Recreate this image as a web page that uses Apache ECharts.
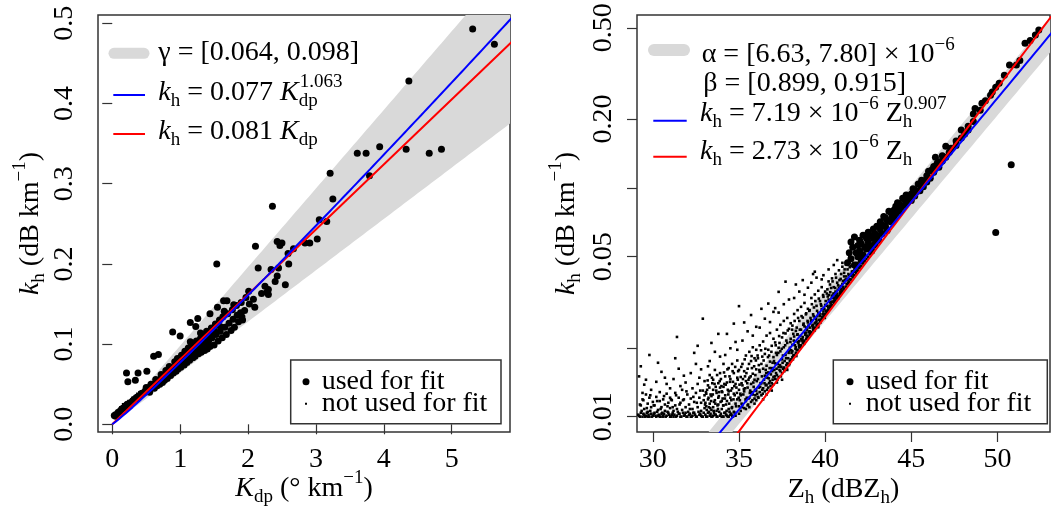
<!DOCTYPE html>
<html>
<head>
<meta charset="utf-8">
<script src="https://cdn.jsdelivr.net/npm/echarts@6/dist/echarts.min.js"></script>
<style>
  html, body { margin: 0; padding: 0; background: #fff; }
  #chart { width: 1051px; height: 508px; }
</style>
</head>
<body>
<div id="chart"></div>
<script>
const FONT = 'Liberation Serif';

// ---- left panel: k_h vs K_dp ----
const kdpTicks = [0, 1, 2, 3, 4, 5];
const khLinTicks = [0, 0.1, 0.2, 0.3, 0.4, 0.5];
const gammaRange = [0.064, 0.098];
const kdpPowerFit = [0.077, 1.063];   // coefficient, exponent
const kdpLinearFit = 0.081;

const usedKdp = [
  [0.03,0.011],[0.05,0.010],[0.06,0.012],[0.08,0.014],[0.10,0.015],[0.12,0.017],[0.14,0.019],[0.16,0.020],
  [0.18,0.021],[0.20,0.023],[0.22,0.025],[0.25,0.026],[0.27,0.027],[0.30,0.029],[0.32,0.031],[0.35,0.032],
  [0.37,0.034],[0.40,0.035],[0.42,0.037],[0.45,0.039],[0.48,0.040],[0.50,0.042],[0.53,0.044],[0.55,0.046],
  [0.58,0.047],[0.60,0.049],[0.63,0.051],[0.65,0.053],[0.68,0.054],[0.70,0.055],[0.72,0.058],[0.75,0.059],
  [0.78,0.061],[0.80,0.063],[0.82,0.065],[0.85,0.066],[0.88,0.069],[0.90,0.070],[0.93,0.072],[0.95,0.074],
  [0.98,0.076],[1.00,0.077],[1.03,0.080],[1.05,0.081],[1.08,0.083],[1.10,0.085],[1.13,0.087],[1.15,0.089],
  [1.18,0.091],[1.20,0.093],[1.23,0.095],[1.25,0.097],[1.28,0.099],[1.30,0.100],[1.33,0.103],[1.35,0.105],
  [1.38,0.107],[1.40,0.108],[1.43,0.111],[1.45,0.113],[1.48,0.115],[1.50,0.117],
  [0.55,0.040],[0.62,0.045],[0.66,0.048],[0.70,0.050],[0.74,0.052],[0.77,0.055],[0.81,0.057],[0.86,0.061],
  [0.90,0.064],[0.94,0.066],[0.97,0.069],[1.01,0.071],[1.06,0.074],[1.10,0.077],[1.14,0.080],[1.19,0.083],
  [1.22,0.085],[1.27,0.088],[1.31,0.090],[1.36,0.092],[1.40,0.094],[1.44,0.097],[1.50,0.099],[1.56,0.104],
  [1.62,0.108],[1.68,0.112],[1.75,0.117],[1.80,0.121],[1.86,0.128],[1.92,0.130],
  [0.50,0.046],[0.57,0.050],[0.64,0.056],[0.72,0.062],[0.79,0.067],[0.84,0.072],[0.92,0.078],[0.96,0.082],
  [1.02,0.086],[1.07,0.091],[1.12,0.095],[1.17,0.098],[1.24,0.104],[1.30,0.107],[1.34,0.112],[1.39,0.116],
  [1.46,0.120],[1.52,0.125],[1.58,0.130],[1.63,0.134],[1.70,0.138],[1.77,0.143],[1.83,0.148],[1.90,0.152],
  [1.97,0.158],
  [0.56,0.044],[0.61,0.048],[0.67,0.052],[0.73,0.056],[0.79,0.060],[0.85,0.064],[0.91,0.068],[0.97,0.072],
  [1.04,0.077],[1.11,0.082],[1.16,0.086],[1.21,0.089],[1.26,0.093],[1.32,0.097],[1.37,0.101],[1.42,0.104],
  [1.47,0.108],[1.53,0.112],[1.59,0.116],[1.66,0.121],[1.72,0.126],[1.78,0.131],[1.84,0.136],[1.95,0.142],
  [2.02,0.150],[2.08,0.156],[2.20,0.163],[2.25,0.172],[2.40,0.178],[2.45,0.195],[2.60,0.200],
  [0.21,0.064],[0.38,0.064],[0.51,0.066],[0.23,0.053],[0.34,0.055],[0.61,0.085],[0.68,0.087],[0.89,0.115],
  [1.00,0.110],[1.15,0.103],[1.20,0.099],[1.26,0.132],[1.15,0.127],[1.23,0.122],[1.30,0.114],[1.44,0.114],
  [1.59,0.122],[1.44,0.138],[1.55,0.146],[1.64,0.154],[1.69,0.154],[1.65,0.141],[1.79,0.149],[1.89,0.139],
  [1.91,0.134],[2.10,0.146],[1.54,0.200],[2.01,0.166],[2.28,0.165],[2.30,0.168],[2.30,0.162],[2.55,0.174],
  [2.43,0.185],[2.34,0.193],[2.15,0.195],[2.59,0.213],[2.67,0.219],[2.50,0.226],[2.47,0.223],[2.43,0.228],
  [2.11,0.222],[2.91,0.226],[2.84,0.226],[3.02,0.231],[3.05,0.255],[3.16,0.253],[2.36,0.272],[3.25,0.281],
  [3.21,0.313],[3.79,0.310],[3.61,0.338],[3.74,0.338],[3.94,0.346],[4.33,0.343],[4.67,0.338],[4.85,0.343],
  [4.37,0.428],[5.31,0.493],[5.63,0.474]
];

const notUsedKdp = [
  [0.03,0.014],[0.04,0.012],[0.06,0.013],[0.07,0.017],[0.08,0.016],[0.10,0.018],[0.11,0.015],[0.12,0.021],
  [0.13,0.020],[0.15,0.021],[0.16,0.025],[0.17,0.024],[0.19,0.022],[0.20,0.026],[0.22,0.027],[0.24,0.029],
  [0.26,0.027],[0.28,0.031],[0.30,0.033],[0.31,0.030],[0.33,0.035],[0.35,0.036],[0.37,0.038],[0.39,0.035],
  [0.40,0.040],[0.42,0.041],[0.44,0.039],[0.46,0.043],[0.50,0.045]
];

// ---- right panel: k_h vs Z_h ----
const zhTicks = [30, 35, 40, 45, 50];
const khLogTicks = [0.01, 0.02, 0.05, 0.1, 0.2, 0.5];
const khLogLabels = [0.01, 0.05, 0.2, 0.5];
const alphaRange = [6.63e-6, 7.80e-6];
const betaRange = [0.899, 0.915];
const zhPowerFit = [7.19e-6, 0.907];
const zhLinearFit = 2.73e-6;

const usedZh = [
  [41.3,.047],[41.4,.052],[41.5,.049],[41.5,.058],[41.6,.055],[41.7,.046],[41.7,.061],[41.8,.052],
  [41.9,.050],[41.9,.056],[42.0,.059],[42.0,.053],[42.1,.048],[42.1,.057],[42.2,.062],[42.2,.051],
  [42.3,.055],[42.4,.054],[42.4,.060],[42.5,.064],[42.5,.058],[42.6,.056],[42.6,.062],[42.7,.053],
  [42.8,.060],[42.8,.066],[42.9,.057],[42.9,.063],[43.0,.062],[43.0,.068],[43.1,.059],[43.2,.066],
  [43.2,.071],[43.3,.063],[43.3,.069],[43.4,.075],[43.5,.068],[43.5,.074],[43.6,.065],[43.6,.072],
  [43.7,.079],[43.8,.071],[43.8,.078],[43.9,.075],[44.0,.074],[44.0,.080],[44.1,.077],[44.1,.083],
  [44.2,.086],[44.3,.079],[44.3,.085],[44.4,.082],[44.5,.090],[44.6,.084],[44.6,.089],[44.7,.093],
  [44.8,.087],[44.9,.091],[45.0,.088],[45.0,.094],[45.1,.099],[45.2,.092],[45.2,.098],[45.3,.096],
  [45.4,.104],[45.5,.097],[45.5,.103],[45.6,.108],[45.7,.101],[45.7,.107],[45.9,.106],[45.9,.113],
  [46.0,.118],[46.1,.110],[46.2,.120],[46.3,.117],[46.3,.124],[46.4,.136],[46.5,.128],[46.6,.123],
  [46.6,.130],[46.8,.131],[46.8,.138],[47.0,.136],[47.0,.152],[47.2,.143],[47.3,.149],[47.6,.153],
  [47.6,.160],[47.9,.165],[47.9,.179],[48.1,.172],[48.3,.179],[48.3,.186],[48.6,.195],[48.6,.210],
  [48.7,.222],[49.0,.218],[49.1,.234],[49.3,.240],[49.6,.254],[49.7,.262],[49.9,.275],[50.1,.286],
  [50.4,.310],[50.7,.344],[51.1,.344],[51.3,.360],[51.6,.428],[51.9,.440],[52.2,.465],[52.4,.489],
  [50.8,.126],[49.9,.0638]
];

const notUsedZh = [
  [29.2,.0101],[29.3,.0104],[29.3,.0112],[29.4,.0100],[29.4,.0119],[29.5,.0102],[29.5,.0108],[29.6,.0125],
  [29.6,.0101],[29.7,.0114],[29.7,.0105],[29.8,.0100],[29.8,.0121],[29.9,.0103],[29.9,.0110],[30.0,.0116],
  [30.0,.0101],[29.2,.0150],[29.3,.0166],[29.8,.0186],[29.5,.0138],[29.9,.0131],[29.4,.0127],[29.6,.0145],
  [29.7,.0100],
  [30.1,.0104],[30.1,.0112],[30.2,.0100],[30.2,.0122],[30.3,.0107],[30.3,.0101],[30.4,.0117],[30.4,.0128],
  [30.5,.0103],[30.5,.0110],[30.6,.0100],[30.6,.0119],[30.7,.0106],[30.7,.0113],[30.8,.0101],[30.8,.0126],
  [30.9,.0104],[30.9,.0115],[31.0,.0100],[31.0,.0109],[30.2,.0142],[30.5,.0157],[30.8,.0139],[30.3,.0172],
  [30.7,.0148],[31.0,.0133],[30.6,.0101],[30.4,.0100],
  [31.1,.0102],[31.1,.0118],[31.2,.0106],[31.2,.0100],[31.3,.0112],[31.3,.0127],[31.4,.0101],[31.4,.0223],
  [31.4,.0108],[31.5,.0121],[31.5,.0103],[31.6,.0115],[31.6,.0100],[31.7,.0131],[31.7,.0107],[31.8,.0101],
  [31.8,.0119],[31.9,.0110],[31.9,.0104],[32.0,.0125],[32.0,.0100],[31.2,.0146],[31.5,.0162],[31.8,.0151],
  [31.3,.0180],[31.9,.0141],[31.6,.0136],[31.0,.0121],
  [32.1,.0102],[32.1,.0113],[32.2,.0120],[32.2,.0100],[32.3,.0108],[32.3,.0133],[32.4,.0104],[32.4,.0116],
  [32.5,.0100],[32.5,.0127],[32.6,.0110],[32.6,.0139],[32.7,.0102],[32.7,.0121],[32.8,.0106],[32.8,.0115],
  [32.9,.0100],[32.9,.0268],[32.9,.0130],[33.0,.0109],[33.0,.0124],[32.2,.0155],[32.5,.0170],[32.8,.0161],
  [32.4,.0190],[32.7,.0148],[33.0,.0143],[32.6,.0204],[32.3,.0101],[32.8,.0101],
  [33.1,.0100],[33.1,.0111],[33.1,.0126],[33.2,.0104],[33.2,.0119],[33.2,.0137],[33.3,.0101],[33.3,.0114],
  [33.3,.0152],[33.4,.0107],[33.4,.0123],[33.4,.0100],[33.5,.0131],[33.5,.0110],[33.5,.0145],[33.6,.0102],
  [33.6,.0118],[33.6,.0160],[33.7,.0106],[33.7,.0127],[33.7,.0100],[33.8,.0113],[33.8,.0140],[33.8,.0121],
  [33.9,.0101],[33.9,.0134],[33.9,.0155],[34.0,.0108],[34.0,.0117],[34.0,.0129],[33.3,.0175],[33.6,.0192],
  [33.9,.0183],[33.4,.0210],[33.8,.0230],[33.2,.0166],[34.0,.0100],[33.5,.0101],
  [34.1,.0100],[34.1,.0112],[34.1,.0135],[34.2,.0104],[34.2,.0124],[34.2,.0150],[34.3,.0101],[34.3,.0117],
  [34.3,.0141],[34.4,.0108],[34.4,.0129],[34.4,.0163],[34.5,.0102],[34.5,.0121],[34.5,.0146],[34.6,.0110],
  [34.6,.0133],[34.6,.0170],[34.7,.0105],[34.7,.0126],[34.7,.0155],[34.8,.0114],[34.8,.0139],[34.8,.0101],
  [34.9,.0119],[34.9,.0148],[34.9,.0176],[35.0,.0111],[35.0,.0131],[35.0,.0160],[34.2,.0186],[34.5,.0199],
  [34.8,.0212],[34.3,.0230],[34.7,.0255],[34.9,.0196],[35.0,.0304],[34.4,.0100],[34.6,.0101],[34.1,.0170],
  [35.1,.0106],[35.1,.0124],[35.1,.0149],[35.2,.0113],[35.2,.0137],[35.2,.0170],[35.3,.0109],[35.3,.0129],
  [35.3,.0158],[35.4,.0117],[35.4,.0143],[35.4,.0185],[35.5,.0112],[35.5,.0134],[35.5,.0162],[35.6,.0121],
  [35.6,.0148],[35.6,.0192],[35.7,.0116],[35.7,.0139],[35.7,.0175],[35.8,.0125],[35.8,.0154],[35.8,.0201],
  [35.9,.0120],[35.9,.0145],[35.9,.0180],[36.0,.0130],[36.0,.0161],[36.0,.0196],[35.2,.0215],[35.5,.0236],
  [35.8,.0226],[35.3,.0258],[35.7,.0278],[36.0,.0247],[35.6,.0110],[35.9,.0114],[35.4,.0108],[35.0,.0103],
  [36.1,.0122],[36.1,.0146],[36.1,.0180],[36.2,.0128],[36.2,.0157],[36.2,.0205],[36.3,.0124],[36.3,.0140],
  [36.3,.0170],[36.4,.0133],[36.4,.0162],[36.4,.0213],[36.5,.0129],[36.5,.0151],[36.5,.0188],[36.6,.0138],
  [36.6,.0167],[36.6,.0226],[36.7,.0134],[36.7,.0156],[36.7,.0196],[36.8,.0143],[36.8,.0174],[36.8,.0232],
  [36.9,.0140],[36.9,.0163],[36.9,.0204],[37.0,.0149],[37.0,.0182],[37.0,.0219],[36.2,.0245],[36.5,.0268],
  [36.8,.0259],[36.3,.0296],[36.7,.0312],[37.0,.0287],[36.4,.0119],[36.9,.0130],[36.6,.0125],[36.0,.0118],
  [37.1,.0146],[37.1,.0171],[37.1,.0211],[37.2,.0152],[37.2,.0186],[37.2,.0240],[37.3,.0149],[37.3,.0165],
  [37.3,.0200],[37.4,.0158],[37.4,.0193],[37.4,.0252],[37.5,.0155],[37.5,.0178],[37.5,.0222],[37.6,.0164],
  [37.6,.0201],[37.6,.0262],[37.7,.0161],[37.7,.0186],[37.7,.0231],[37.8,.0171],[37.8,.0210],[37.8,.0270],
  [37.9,.0168],[37.9,.0194],[37.9,.0242],[38.0,.0178],[38.0,.0219],[38.0,.0256],[37.3,.0285],[37.6,.0310],
  [37.7,.0389],[37.3,.0351],[37.9,.0325],[37.1,.0298],[37.5,.0145],[37.8,.0160],[37.2,.0141],[38.0,.0175],
  [38.1,.0182],[38.1,.0206],[38.1,.0250],[38.2,.0186],[38.2,.0224],[38.2,.0281],[38.3,.0190],[38.3,.0201],
  [38.3,.0237],[38.4,.0196],[38.4,.0229],[38.4,.0292],[38.5,.0201],[38.5,.0214],[38.5,.0262],[38.6,.0205],
  [38.6,.0240],[38.6,.0302],[38.7,.0210],[38.7,.0223],[38.7,.0271],[38.8,.0215],[38.8,.0248],[38.8,.0314],
  [38.9,.0219],[38.9,.0233],[38.9,.0283],[39.0,.0224],[39.0,.0258],[39.0,.0296],[38.2,.0330],[38.5,.0352],
  [38.8,.0341],[38.3,.0378],[38.7,.0395],[39.0,.0366],[38.4,.0212],[38.9,.0245],[38.6,.0218],[38.1,.0193],
  [39.1,.0229],[39.1,.0245],[39.1,.0292],[39.2,.0234],[39.2,.0264],[39.2,.0330],[39.3,.0239],[39.3,.0252],
  [39.3,.0280],[39.4,.0244],[39.4,.0272],[39.4,.0342],[39.4,.0430],[39.5,.0250],[39.5,.0262],[39.5,.0305],
  [39.6,.0255],[39.6,.0284],[39.6,.0355],[39.7,.0261],[39.7,.0275],[39.7,.0320],[39.8,.0267],[39.8,.0295],
  [39.8,.0368],[39.9,.0273],[39.9,.0288],[39.9,.0334],[40.0,.0280],[40.0,.0308],[40.0,.0352],[39.2,.0385],
  [39.5,.0405],[39.8,.0398],[39.3,.0420],[39.9,.0415],[39.6,.0246],[39.1,.0236],[39.9,.0281],[39.4,.0256],
  [40.1,.0287],[40.1,.0305],[40.1,.0345],[40.2,.0294],[40.2,.0325],[40.2,.0390],[40.3,.0300],[40.3,.0316],
  [40.3,.0350],[40.4,.0307],[40.4,.0338],[40.4,.0402],[40.5,.0314],[40.5,.0330],[40.5,.0368],[40.6,.0322],
  [40.6,.0352],[40.6,.0420],[40.7,.0329],[40.7,.0345],[40.7,.0385],[40.8,.0337],[40.8,.0366],[40.8,.0436],
  [40.9,.0345],[40.9,.0360],[40.9,.0400],[41.0,.0353],[41.0,.0380],[41.0,.0452],[40.2,.0440],[40.7,.0483],
  [40.5,.0460],[41.0,.0470],[40.4,.0318],[40.9,.0372],[40.6,.0336],
  [41.1,.0362],[41.1,.0385],[41.1,.0425],[41.2,.0370],[41.2,.0398],[41.2,.0462],[41.3,.0379],[41.3,.0395],
  [41.3,.0440],[41.4,.0388],[41.4,.0415],[41.4,.0478],[41.5,.0397],[41.5,.0412],[41.5,.0455],[41.6,.0406],
  [41.6,.0432],[41.6,.0490],[41.7,.0416],[41.7,.0440],[41.8,.0425],[41.8,.0452],[41.9,.0435],[41.9,.0462],
  [42.0,.0446],[42.0,.0470],[41.4,.0505],[41.8,.0515],[41.1,.0410],[41.6,.0420],
  [42.1,.0456],[42.1,.0480],[42.2,.0467],[42.2,.0495],[42.3,.0478],[42.3,.0505],[42.4,.0489],[42.5,.0500],
  [42.6,.0512],[42.7,.0524],[42.8,.0537],[42.9,.0550],[43.0,.0562],[43.2,.0590],
  // floor row and dense core, in between the columns above
  [29.15,.0102],[29.25,.0100],[29.35,.0106],[29.45,.0103],[29.55,.0100],[29.65,.0104],[29.75,.0102],[29.85,.0106],
  [29.95,.0100],[30.05,.0103],[30.15,.0101],[30.25,.0105],[30.35,.0102],[30.45,.0100],[30.55,.0104],[30.65,.0103],
  [30.75,.0100],[30.85,.0105],[30.95,.0102],[31.05,.0100],[31.15,.0104],[31.25,.0102],[31.35,.0100],[31.45,.0105],
  [31.55,.0103],[31.65,.0100],[31.75,.0104],[31.85,.0102],[31.95,.0100],[32.05,.0105],[32.15,.0103],[32.25,.0100],
  [32.35,.0104],[32.45,.0102],[32.55,.0100],[32.65,.0105],[32.75,.0103],[32.85,.0100],[32.95,.0104],[33.05,.0102],
  [33.15,.0100],[33.25,.0105],[33.35,.0103],[33.45,.0100],[33.55,.0104],[33.65,.0102],[33.75,.0100],[33.85,.0105],
  [33.95,.0103],[34.05,.0100],[34.15,.0104],[34.25,.0102],[34.35,.0100],[34.45,.0105],[34.55,.0103],[34.65,.0100],
  [34.75,.0104],
  [29.25,.0113],[29.45,.0118],[29.65,.0109],[29.85,.0124],[30.05,.0112],[30.25,.0117],[30.45,.0108],[30.65,.0123],
  [30.85,.0111],[31.05,.0119],[31.15,.0110],[31.35,.0124],[31.55,.0113],[31.75,.0118],[31.95,.0129],[32.15,.0108],
  [32.35,.0122],[32.55,.0115],[32.75,.0130],[32.95,.0118],
  [33.05,.0115],[33.15,.0131],[33.25,.0110],[33.35,.0125],[33.45,.0140],[33.55,.0116],[33.65,.0135],[33.75,.0112],
  [33.85,.0128],[33.95,.0146],[34.05,.0120],[34.15,.0139],[34.25,.0113],[34.35,.0131],[34.45,.0150],[34.55,.0118],
  [34.65,.0142],[34.75,.0124],[34.85,.0134],[34.95,.0158],
  [35.05,.0118],[35.15,.0140],[35.25,.0125],[35.35,.0150],[35.45,.0121],[35.55,.0145],[35.65,.0130],[35.75,.0163],
  [35.85,.0135],[35.95,.0152],[36.05,.0126],[36.15,.0168],[36.25,.0140],[36.35,.0183],[36.45,.0145],[36.55,.0160],
  [36.65,.0148],[36.75,.0185],[36.85,.0153],[36.95,.0172],
  [35.15,.0114],[35.35,.0133],[35.55,.0120],[35.75,.0128],[35.95,.0124],[36.15,.0134],[36.35,.0131],[36.55,.0137],
  [36.75,.0140],[36.95,.0145],
  [37.05,.0160],[37.15,.0190],[37.25,.0170],[37.35,.0210],[37.45,.0165],[37.55,.0185],[37.65,.0175],[37.75,.0215],
  [37.85,.0180],[37.95,.0200],[38.05,.0190],[38.15,.0230],[38.25,.0205],[38.35,.0245],[38.45,.0210],[38.55,.0225],
  [38.65,.0215],[38.75,.0255],[38.85,.0228],[38.95,.0240],
  [37.15,.0155],[37.35,.0160],[37.55,.0162],[37.75,.0168],[37.95,.0175],[38.15,.0185],[38.35,.0195],[38.55,.0204],
  [38.75,.0213],[38.95,.0222],
  [39.05,.0235],[39.15,.0270],[39.25,.0250],[39.35,.0300],[39.45,.0258],[39.55,.0275],[39.65,.0265],[39.75,.0310],
  [39.85,.0280],[39.95,.0295],[40.05,.0290],[40.15,.0335],[40.25,.0305],[40.35,.0365],[40.45,.0318],[40.55,.0345],
  [40.65,.0330],[40.75,.0375],[40.85,.0345],[40.95,.0360],
  [39.15,.0232],[39.35,.0245],[39.55,.0252],[39.75,.0265],[39.95,.0275],[40.15,.0292],[40.35,.0305],[40.55,.0318],
  [40.75,.0333],[40.95,.0348],
  [41.05,.0368],[41.15,.0395],[41.25,.0380],[41.35,.0420],[41.45,.0398],[41.55,.0430],[41.65,.0415],[41.75,.0448],
  [41.85,.0435],[41.95,.0455],
  // more of the dense core next to the fit lines
  [33.03,.0113],[33.08,.0128],[33.13,.0107],[33.18,.0144],[33.23,.0121],[33.28,.0134],[33.33,.0109],[33.38,.0117],
  [33.43,.0148],[33.48,.0125],[33.53,.0106],[33.58,.0139],[33.63,.0114],[33.68,.0130],[33.73,.0152],[33.78,.0108],
  [33.83,.0123],[33.88,.0143],[33.93,.0116],[33.98,.0136],
  [34.03,.0128],[34.08,.0112],[34.13,.0156],[34.18,.0120],[34.23,.0138],[34.28,.0106],[34.33,.0161],[34.38,.0125],
  [34.43,.0114],[34.48,.0142],[34.53,.0130],[34.58,.0109],[34.63,.0158],[34.68,.0119],[34.73,.0136],[34.78,.0165],
  [34.83,.0111],[34.88,.0127],[34.93,.0145],[34.98,.0121],
  [35.03,.0138],[35.08,.0126],[35.13,.0165],[35.18,.0110],[35.23,.0146],[35.28,.0132],[35.33,.0178],[35.38,.0119],
  [35.43,.0155],[35.48,.0140],[35.53,.0113],[35.58,.0170],[35.63,.0127],[35.68,.0150],[35.73,.0184],[35.78,.0118],
  [35.83,.0141],[35.88,.0166],[35.93,.0131],[35.98,.0176],
  [36.03,.0143],[36.08,.0185],[36.13,.0121],[36.18,.0160],[36.23,.0135],[36.28,.0195],[36.33,.0150],[36.38,.0126],
  [36.43,.0176],[36.48,.0140],[36.53,.0198],[36.58,.0155],[36.63,.0131],[36.68,.0182],[36.73,.0147],[36.78,.0163],
  [36.83,.0136],[36.88,.0192],[36.93,.0158],[36.98,.0138],
  [37.03,.0175],[37.08,.0150],[37.13,.0205],[37.18,.0162],[37.23,.0145],[37.28,.0190],[37.33,.0225],[37.38,.0168],
  [37.43,.0150],[37.48,.0198],[37.53,.0172],[37.58,.0232],[37.63,.0158],[37.68,.0205],[37.73,.0180],[37.78,.0163],
  [37.83,.0238],[37.88,.0190],[37.93,.0170],[37.98,.0212],
  [38.03,.0195],[38.08,.0240],[38.13,.0178],[38.18,.0215],[38.23,.0262],[38.28,.0198],[38.33,.0184],[38.38,.0228],
  [38.43,.0270],[38.48,.0205],[38.53,.0240],[38.58,.0200],[38.63,.0275],[38.68,.0218],[38.73,.0252],[38.78,.0208],
  [38.83,.0232],[38.88,.0280],[38.93,.0226],[38.98,.0262],
  [39.03,.0250],[39.08,.0290],[39.13,.0228],[39.18,.0262],[39.23,.0310],[39.28,.0245],[39.33,.0275],[39.38,.0238],
  [39.43,.0320],[39.48,.0268],[39.53,.0290],[39.58,.0250],[39.63,.0328],[39.68,.0282],[39.73,.0258],[39.78,.0305],
  [39.83,.0272],[39.88,.0340],[39.93,.0298],[39.98,.0270],
  [40.03,.0320],[40.08,.0285],[40.13,.0360],[40.18,.0300],[40.23,.0340],[40.28,.0378],[40.33,.0312],[40.38,.0330],
  [40.43,.0390],[40.48,.0345],[40.53,.0322],[40.58,.0365],[40.63,.0405],[40.68,.0338],[40.73,.0358],[40.78,.0330],
  [40.83,.0395],[40.88,.0352],[40.93,.0420],[40.98,.0372],
  [41.03,.0392],[41.08,.0360],[41.13,.0440],[41.23,.0410],[41.33,.0385],[41.43,.0450],[41.53,.0420],[41.63,.0465],
  [41.73,.0430],[41.83,.0470],[41.93,.0448]
];

// ---- curves from the fitted coefficients ----
const kdpGrid = [];
for (let i = 0; i <= 120; i++) kdpGrid.push(i * 0.05);
const zhGrid = [];
for (let i = 0; i <= 100; i++) zhGrid.push(28 + i * 0.26);
const lin = d => Math.pow(10, d / 10);

const bandKdpLow = kdpGrid.map(x => [x, gammaRange[0] * x]);
const bandKdpHigh = kdpGrid.map(x => [x, gammaRange[1] * x]);
const bandZhLow = zhGrid.map(d => [d, alphaRange[0] * Math.pow(lin(d), betaRange[0])]);
const bandZhHigh = zhGrid.map(d => [d, alphaRange[1] * Math.pow(lin(d), betaRange[1])]);

const rich = {
  n:    { fontFamily: FONT, fontSize: 28, color: '#000' },
  it:   { fontFamily: FONT, fontSize: 28, fontStyle: 'italic', color: '#000' },
  sub:  { fontFamily: FONT, fontSize: 19, padding: [17, 0, 0, 0], color: '#000' },
  sup:  { fontFamily: FONT, fontSize: 19, padding: [0, 0, 20, 0], color: '#000' },
  subz: { fontFamily: FONT, fontSize: 19, padding: [17, 0, 0, 0], width: 1, color: '#000' }
};

function bandSeries(idx, high, low) {
  return {
    type: 'custom', xAxisIndex: idx, yAxisIndex: idx, silent: true, clip: true, z: 1,
    data: high,
    renderItem(params, api) {
      if (params.dataIndex !== 0) return null;
      const pts = high.map(p => api.coord(p)).concat(low.slice().reverse().map(p => api.coord(p)));
      const cs = params.coordSys;
      return {
        type: 'polygon', shape: { points: pts }, style: { fill: '#d9d9d9' },
        clipPath: { type: 'rect', shape: { x: cs.x, y: cs.y, width: cs.width, height: cs.height } }
      };
    }
  };
}

function fitLine(idx, data, color) {
  return {
    type: 'line', xAxisIndex: idx, yAxisIndex: idx, data, symbol: 'none', silent: true, z: 4,
    lineStyle: { color, width: 2 }
  };
}

function dots(idx, data, big) {
  return {
    type: 'scatter', xAxisIndex: idx, yAxisIndex: idx, data, silent: true,
    symbol: big ? 'circle' : 'rect', symbolSize: big ? 7 : 2.6,
    itemStyle: { color: '#000', opacity: 1 }, z: big ? 3 : 2
  };
}

const tickStyle = { length: 10, lineStyle: { color: '#333', width: 1.2 } };
const labelStyle = { fontFamily: FONT, fontSize: 28, color: '#000' };

function xAxis(idx, min, max, ticks, name, gap) {
  return {
    gridIndex: idx, type: 'value', min, max,
    axisLine: { show: false }, splitLine: { show: false },
    axisTick: Object.assign({ customValues: ticks }, tickStyle),
    axisLabel: Object.assign({ customValues: ticks, margin: 14, formatter: v => String(v) }, labelStyle),
    name, nameLocation: 'middle', nameGap: gap, nameMoveOverlap: false,
    nameTextStyle: { fontFamily: FONT, fontSize: 28, color: '#000', rich }
  };
}

const yName = '{it|k}{sub|h}{n| (dB km}{sup|−1}{n|)}';

const option = {
  animation: false,
  textStyle: { fontFamily: FONT },
  grid: [
    { left: 98, top: 15, width: 412, height: 417, show: true, borderColor: '#333', borderWidth: 1.5, outerBoundsMode: 'none' },
    { left: 637, top: 15, width: 413, height: 417, show: true, borderColor: '#333', borderWidth: 1.5, outerBoundsMode: 'none' }
  ],
  xAxis: [
    xAxis(0, -0.21, 5.86, kdpTicks, '{it|K}{sub|dp}{n| (° km}{sup|−1}{n|)}', 37),
    xAxis(1, 29.08, 53.05, zhTicks, '{n|Z}{sub|h}{n| (dBZ}{sub|h}{n|)}', 40)
  ],
  yAxis: [
    {
      gridIndex: 0, type: 'value', min: -0.0096, max: 0.5104,
      axisLine: { show: false }, splitLine: { show: false },
      axisTick: Object.assign({ customValues: khLinTicks }, tickStyle),
      axisLabel: Object.assign({ customValues: khLinTicks, rotate: 90, margin: 19, formatter: v => v.toFixed(1) }, labelStyle),
      name: yName, nameLocation: 'middle', nameRotate: 90, nameGap: 48, nameMoveOverlap: false,
      nameTextStyle: { fontFamily: FONT, fontSize: 28, color: '#000', rich }
    },
    {
      gridIndex: 1, type: 'log', logBase: 10, min: 0.00857, max: 0.569,
      axisLine: { show: false }, splitLine: { show: false }, minorTick: { show: false },
      axisTick: Object.assign({ customValues: khLogTicks }, tickStyle),
      axisLabel: Object.assign({ customValues: khLogLabels, rotate: 90, margin: 19, formatter: v => Number(v).toFixed(2) }, labelStyle),
      name: yName, nameLocation: 'middle', nameRotate: 90, nameGap: 51, nameMoveOverlap: false,
      nameTextStyle: { fontFamily: FONT, fontSize: 28, color: '#000', rich }
    }
  ],
  series: [
    bandSeries(0, bandKdpHigh, bandKdpLow),
    dots(0, notUsedKdp, false),
    dots(0, usedKdp, true),
    fitLine(0, kdpGrid.map(x => [x, kdpLinearFit * x]), '#ff0000'),
    fitLine(0, kdpGrid.map(x => [x, kdpPowerFit[0] * Math.pow(x, kdpPowerFit[1])]), '#0000ff'),
    bandSeries(1, bandZhHigh, bandZhLow),
    dots(1, notUsedZh, false),
    dots(1, usedZh, true),
    fitLine(1, zhGrid.map(d => [d, zhLinearFit * lin(d)]), '#ff0000'),
    fitLine(1, zhGrid.map(d => [d, zhPowerFit[0] * Math.pow(lin(d), zhPowerFit[1])]), '#0000ff')
  ],
  graphic: []
};

// legends
function key(x1, x2, y, color, w) {
  return { type: 'line', shape: { x1, y1: y, x2, y2: y }, style: { stroke: color, lineWidth: w, lineCap: w > 4 ? 'round' : 'butt' }, z: 10 };
}
function label(x, y, text) {
  return { type: 'text', x, y, z: 10, style: { text, rich, fontFamily: FONT, fontSize: 28, fill: '#000', align: 'left', verticalAlign: 'middle' } };
}
function fitBox(x, y, w, h, dotX) {
  return [
    { type: 'rect', shape: { x, y, width: w, height: h }, style: { fill: '#fff', stroke: '#333', lineWidth: 1.5 }, z: 10 },
    { type: 'circle', shape: { cx: dotX, cy: y + 21.7, r: 3.5 }, style: { fill: '#000' }, z: 11 },
    { type: 'rect', shape: { x: dotX - 1, y: y + 42.7, width: 2, height: 2 }, style: { fill: '#000' }, z: 11 },
    label(dotX + 15.7, y + 22, '{n|used for fit}'),
    label(dotX + 15.7, y + 43.8, '{n|not used for fit}')
  ];
}

option.graphic.push(
  key(114, 144, 53.3, '#d9d9d9', 11),
  label(158.3, 53, '{n|γ = [0.064, 0.098]}'),
  key(113.3, 145, 95, '#0000ff', 2),
  label(158.3, 92.5, '{it|k}{sub|h}{n| = 0.077 }{it|K}{subz|dp}{sup|1.063}'),
  key(113.3, 145, 134, '#ff0000', 2),
  label(158.3, 131.7, '{it|k}{sub|h}{n| = 0.081 }{it|K}{sub|dp}'),
  key(654, 684, 50, '#d9d9d9', 12),
  label(701.7, 55, '{n|α = [6.63, 7.80] × 10}{sup|−6}'),
  label(703.3, 84, '{n|β = [0.899, 0.915]}'),
  key(653.3, 686.7, 120.7, '#0000ff', 2),
  label(700, 113.7, '{it|k}{sub|h}{n| = 7.19 × 10}{sup|−6}{n| Z}{subz|h}{sup|0.907}'),
  key(653.3, 686.7, 156.7, '#ff0000', 2),
  label(700, 151.7, '{it|k}{sub|h}{n| = 2.73 × 10}{sup|−6}{n| Z}{sub|h}'),
  ...fitBox(290.7, 360, 210.3, 63.7, 306),
  ...fitBox(833.3, 360, 214, 63.7, 850)
);

const chart = echarts.init(document.getElementById('chart'), null, { renderer: 'canvas' });
chart.setOption(option);
window.onresize = function () { chart.resize(); };
</script>
</body>
</html>
